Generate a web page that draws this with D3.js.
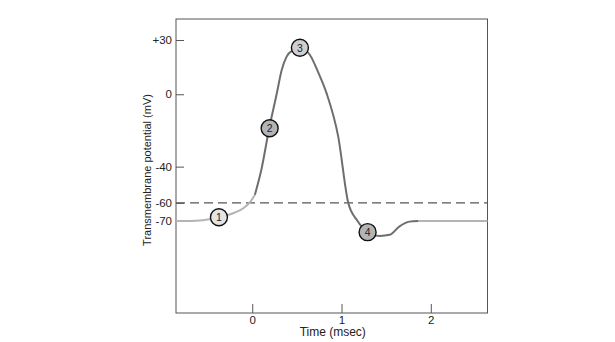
<!DOCTYPE html>
<html><head><meta charset="utf-8">
<script src="https://cdn.jsdelivr.net/npm/d3@7"></script>
<style>body{margin:0;background:#fff}svg{display:block}text{font-family:"Liberation Sans",Arial,sans-serif;fill:#222}</style>
</head><body><svg id="c" width="615" height="342"></svg>
<script>
// Data
const restBeforeT = [-0.854, -0.7, -0.55, -0.373, -0.2, -0.1, -0.02, 0.03];
const restBeforeV = [-70, -70, -69.6, -68, -65.5, -63, -59.3, -55.5];
const spikeT = [0.03, 0.105, 0.19, 0.273, 0.33, 0.385, 0.46, 0.534, 0.646, 0.74, 0.833, 0.963, 1.075, 1.17, 1.25, 1.34, 1.43, 1.54, 1.65, 1.76, 1.86];
const spikeV = [-55.5, -41, -18.8, 0, 13.4, 20.8, 24.5, 25.7, 21.7, 12, 0.5, -23.4, -60, -69.4, -74.5, -77.6, -78.3, -77.7, -73, -70.4, -70];
const restAfterT = [1.86, 2.2, 2.635];
const restAfterV = [-70, -70, -70];
const thresholdV = -60;
const markerLabels = ["1", "2", "3", "4"];
const markerT = [-0.373, 0.195, 0.534, 1.292];
const markerV = [-68, -18.8, 25.7, -76.2];
const yTickValues = [30, 0, -40, -60, -70];
const yTickLabels = ["+30", "0", "-40", "-60", "-70"];
const xTickValues = [0, 1, 2];
const xTickLabels = ["0", "1", "2"];
const xLabel = "Time (msec)";
const yLabel = "Transmembrane potential (mV)";

const svg = d3.select("#c");
const L = 176, R = 487.5, T = 19, B = 313;
const x = d3.scaleLinear().domain([-0.854, 2.635]).range([L, R]);
const y = d3.scaleLinear().domain([-120.9, 41.6]).range([B, T]);

// frame
svg.append("rect").attr("x", L).attr("y", T).attr("width", R - L).attr("height", B - T)
  .attr("fill", "none").attr("stroke", "#555").attr("stroke-width", 1);

// axes (ticks inward)
const yAxis = d3.axisLeft(y).tickValues(yTickValues).tickFormat((d, i) => yTickLabels[i]).tickSizeInner(-8).tickSizeOuter(0).tickPadding(4);
const gy = svg.append("g").attr("transform", `translate(${L},0)`).call(yAxis);
gy.select(".domain").remove();
gy.selectAll("line").attr("stroke", "#555");
gy.selectAll("text").attr("font-size", 11.5).attr("x", -4).attr("fill", "#222");

const xAxis = d3.axisBottom(x).tickValues(xTickValues).tickFormat((d, i) => xTickLabels[i]).tickSizeInner(-9).tickSizeOuter(0).tickPadding(4);
const gx = svg.append("g").attr("transform", `translate(0,${B})`).call(xAxis);
gx.select(".domain").remove();
gx.selectAll("line").attr("stroke", "#555");
gx.selectAll("text").attr("font-size", 11.5).attr("y", 3).attr("fill", "#222");

// axis titles
svg.append("text").attr("x", (L + R) / 2 + 1).attr("y", 336).attr("text-anchor", "middle").attr("font-size", 12).text(xLabel);
svg.append("text").attr("transform", `translate(151,170) rotate(-90)`).attr("text-anchor", "middle").attr("font-size", 11).text(yLabel);

// threshold dashed line
svg.append("line").attr("x1", L).attr("x2", R).attr("y1", y(thresholdV)).attr("y2", y(thresholdV))
  .attr("stroke", "#555").attr("stroke-width", 1.2).attr("stroke-dasharray", "9,5");

const line = d3.line().x(d => x(d[0])).y(d => y(d[1])).curve(d3.curveMonotoneX);
const seg = (ts, vs) => ts.map((t, i) => [t, vs[i]]);
svg.append("path").attr("d", line(seg(restBeforeT, restBeforeV))).attr("fill", "none").attr("stroke", "#b4b4b4").attr("stroke-width", 2);
svg.append("path").attr("d", line(seg(restAfterT, restAfterV))).attr("fill", "none").attr("stroke", "#b4b4b4").attr("stroke-width", 2);
svg.append("path").attr("d", line(seg(spikeT, spikeV))).attr("fill", "none").attr("stroke", "#6e6e6e").attr("stroke-width", 2);

const markerFill = ["#e4e4e4", "#b4b4b4", "#cfcfcf", "#b4b4b4"];
const mg = svg.selectAll("g.m").data(markerLabels).enter().append("g").attr("class", "m")
  .attr("transform", (d, i) => `translate(${x(markerT[i])},${y(markerV[i])})`);
mg.append("circle").attr("r", 8.5).attr("fill", (d, i) => markerFill[i]).attr("stroke", "#111").attr("stroke-width", 1.4);
mg.append("text").attr("text-anchor", "middle").attr("dy", "0.36em").attr("font-size", 10.5).text(d => d);
</script></body></html>
